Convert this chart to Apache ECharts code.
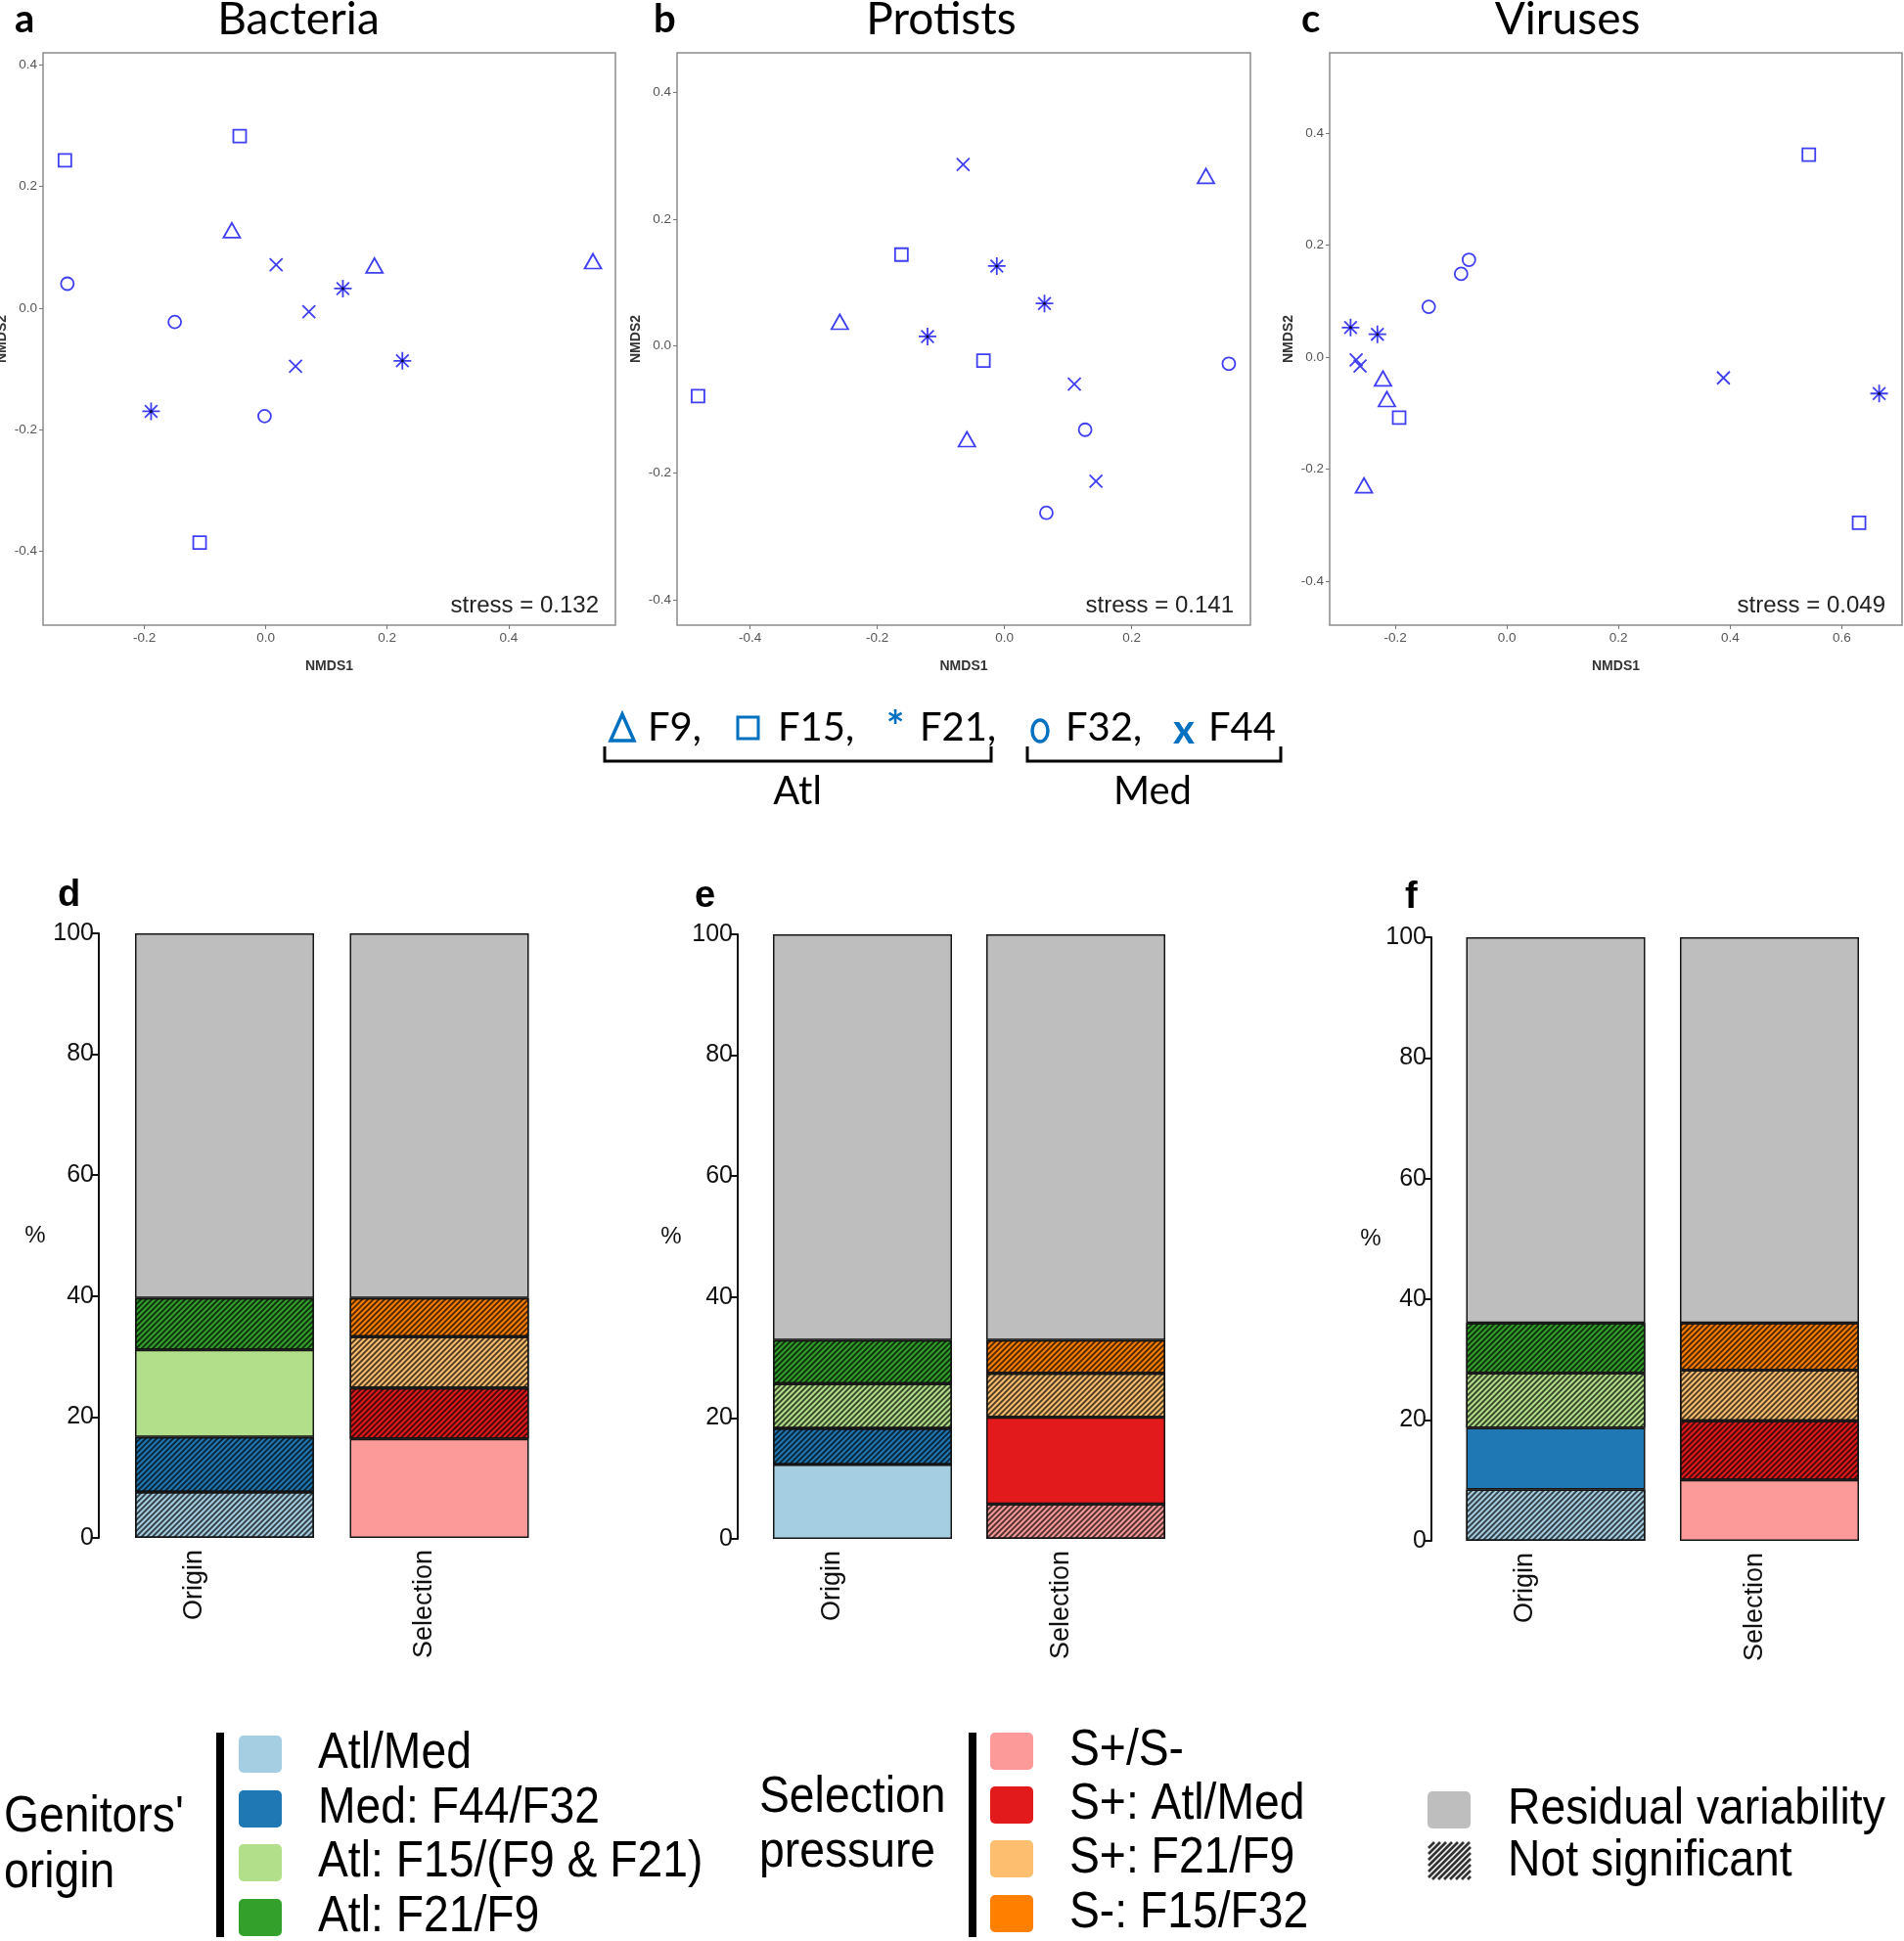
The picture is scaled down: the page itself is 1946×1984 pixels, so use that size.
<!DOCTYPE html>
<html>
<head>
<meta charset="utf-8">
<script src="https://cdn.jsdelivr.net/npm/echarts@6/dist/echarts.min.js"></script>
<style>
html,body{margin:0;padding:0;background:#fff;}
#chart{width:1946px;height:1984px;}
</style>
</head>
<body>
<div id="chart"></div>
<script>
// ---------- NMDS data (NMDS1, NMDS2) ----------
const bacteriaF9  = [[-0.056,0.128],[0.179,0.070],[0.539,0.077]];
const bacteriaF15 = [[-0.331,0.243],[-0.043,0.283],[-0.109,-0.386]];
const bacteriaF21 = [[0.127,0.032],[0.225,-0.087],[-0.189,-0.170]];
const bacteriaF32 = [[-0.327,0.040],[-0.150,-0.023],[-0.002,-0.178]];
const bacteriaF44 = [[0.017,0.071],[0.071,-0.006],[0.049,-0.096]];

const protistsF9  = [[0.317,0.268],[-0.259,0.038],[-0.059,-0.147]];
const protistsF15 = [[-0.162,0.144],[-0.033,-0.023],[-0.482,-0.079]];
const protistsF21 = [[-0.012,0.126],[0.063,0.067],[-0.121,0.015]];
const protistsF32 = [[0.353,-0.028],[0.127,-0.132],[0.066,-0.263]];
const protistsF44 = [[-0.065,0.286],[0.110,-0.060],[0.144,-0.213]];

const virusesF9  = [[-0.222,-0.038],[-0.215,-0.075],[-0.256,-0.229]];
const virusesF15 = [[0.541,0.362],[-0.193,-0.108],[0.631,-0.296]];
const virusesF21 = [[-0.280,0.053],[-0.232,0.041],[0.667,-0.065]];
const virusesF32 = [[-0.068,0.174],[-0.082,0.149],[-0.140,0.090]];
const virusesF44 = [[-0.270,-0.005],[-0.263,-0.016],[0.388,-0.037]];

const panelTitles = ['Bacteria','Protists','Viruses'];
const panelLetters = ['a','b','c'];
const stressValues = ['0.132','0.141','0.049'];
const xRanges = [[-0.367,0.576],[-0.515,0.387],[-0.3175,0.708]];
const yRanges = [[-0.522,0.420],[-0.440,0.462],[-0.479,0.544]];
const xTicks = [[-0.2,0,0.2,0.4],[-0.4,-0.2,0,0.2],[-0.2,0,0.2,0.4,0.6]];
const yTicks = [[-0.4,-0.2,0,0.2,0.4],[-0.4,-0.2,0,0.2,0.4],[-0.4,-0.2,0,0.2,0.4]];

// ---------- variance partition (%) bottom -> top ----------
const barCategories = ['Origin','Selection'];
const originD    = [7.6, 9.1, 14.4, 8.6, 60.3];
const selectionD = [16.4, 8.4, 8.5, 6.4, 60.3];
const originE    = [12.3, 6.0, 7.4, 7.2, 67.1];
const selectionE = [5.8, 14.3, 7.3, 5.5, 67.1];
const originF    = [8.5, 10.2, 9.1, 8.3, 63.9];
const selectionF = [10.1, 9.8, 8.4, 7.8, 63.9];
// 1 = not significant (hatched)
const hatchOriginD = [1,1,0,1,0], hatchSelectionD = [0,1,1,1,0];
const hatchOriginE = [0,1,1,1,0], hatchSelectionE = [1,0,1,1,0];
const hatchOriginF = [1,0,1,1,0], hatchSelectionF = [0,1,1,1,0];
const barLetters = ['d','e','f'];

const originLabels = ['Atl/Med','Med: F44/F32','Atl: F15/(F9 & F21)','Atl: F21/F9'];
const selectionLabels = ['S+/S-','S+: Atl/Med','S+: F21/F9','S-: F15/F32'];
const originColors = ['#a6cee3','#1f78b4','#b2df8a','#33a02c','#bebebe'];
const selectionColors = ['#fb9a99','#e31a1c','#fdbf6f','#ff7f00','#bebebe'];

// ---------- layout ----------
const BLUE = '#3f3ff2';
const scatterGrids = [
  {left:44, top:54, width:585, height:585},
  {left:692, top:54, width:586, height:585},
  {left:1359, top:54, width:585, height:585}
];
const barGrids = [
  {left:119.75, top:954, width:439, height:618, axisOffset:18.75},
  {left:772.5, top:955, width:436, height:618, axisOffset:18.5},
  {left:1480.75, top:958, width:437, height:617, axisOffset:17.75}
];

const chart = echarts.init(document.getElementById('chart'), null, {renderer:'canvas'});

const grids = [], xAxes = [], yAxes = [], series = [], graphics = [];
const fmt = v => (Math.abs(v) < 1e-9 ? '0.0' : v.toFixed(1));

const X_PATH = 'path://M0,0 L10,10 M10,0 L0,10';
const STAR_PATH = 'path://M5,0 L5,10 M0,5 L10,5 M1.46,1.46 L8.54,8.54 M8.54,1.46 L1.46,8.54';

const nmds = [
  [bacteriaF9,bacteriaF15,bacteriaF21,bacteriaF32,bacteriaF44],
  [protistsF9,protistsF15,protistsF21,protistsF32,protistsF44],
  [virusesF9,virusesF15,virusesF21,virusesF32,virusesF44]
];
const symDefs = [
  {name:'F9', symbol:'triangle', size:[17,15]},
  {name:'F15', symbol:'rect', size:13},
  {name:'F21', symbol:STAR_PATH, size:18},
  {name:'F32', symbol:'circle', size:13},
  {name:'F44', symbol:X_PATH, size:13}
];

scatterGrids.forEach((g, k) => {
  grids.push(Object.assign({}, g, {show:true, borderColor:'#8c8c8c', borderWidth:1.5, backgroundColor:'transparent', containLabel:false, outerBoundsMode:'none'}));
  xAxes.push({
    type:'value', gridIndex:k, min:xRanges[k][0], max:xRanges[k][1],
    name:'NMDS1', nameLocation:'middle', nameGap:35,
    nameTextStyle:{fontSize:14, fontWeight:'bold', color:'#333', fontFamily:'Liberation Sans'},
    axisLine:{show:false, onZero:false},
    axisTick:{show:true, length:4, lineStyle:{color:'#777', width:1}, customValues:xTicks[k]},
    axisLabel:{customValues:xTicks[k], formatter:fmt, fontSize:13.5, color:'#555', margin:6},
    splitLine:{show:false}
  });
  yAxes.push({
    type:'value', gridIndex:k, min:yRanges[k][0], max:yRanges[k][1],
    name:'NMDS2', nameLocation:'middle', nameGap:35, nameRotate:90,
    nameTextStyle:{fontSize:14, fontWeight:'bold', color:'#333', fontFamily:'Liberation Sans'},
    axisLine:{show:false, onZero:false},
    axisTick:{show:true, length:4, lineStyle:{color:'#777', width:1}, customValues:yTicks[k]},
    axisLabel:{customValues:yTicks[k], formatter:fmt, fontSize:13.5, color:'#555', margin:6},
    splitLine:{show:false}
  });
  symDefs.forEach((s, i) => {
    series.push({
      type:'scatter', name:s.name, xAxisIndex:k, yAxisIndex:k,
      data:nmds[k][i], symbol:s.symbol, symbolSize:s.size,
      itemStyle:{color:'none', borderColor:BLUE, borderWidth:1.8, opacity:1},
      emphasis:{disabled:true}, silent:true
    });
  });
  // black centre dot of the asterisks
  series.push({
    type:'scatter', xAxisIndex:k, yAxisIndex:k, data:nmds[k][2],
    symbol:'circle', symbolSize:3, itemStyle:{color:'#000'}, silent:true, z:3
  });
  const right = g.left + g.width;
  graphics.push({type:'text', x:right-17, y:g.top+g.height-20,
    style:{text:'stress = ' + stressValues[k], font:'24px "Liberation Sans"', fill:'#222', textAlign:'right', textVerticalAlign:'middle'}});
});

const titleX = [305, 962, 1602];
const letterX = [15, 668, 1330];
titleX.forEach((x, k) => {
  graphics.push({type:'text', x:x, y:20, style:{text:panelTitles[k], font:'46px Lato', fill:'#000', textAlign:'center', textVerticalAlign:'middle'}});
  graphics.push({type:'text', x:letterX[k], y:20, style:{text:panelLetters[k], font:'bold 40px Lato', fill:'#000', textAlign:'left', textVerticalAlign:'middle'}});
});

// ---------- bar panels ----------
const hatchDecal = {symbol:'rect', symbolSize:1, dashArrayX:[1,0], dashArrayY:[1.3,1.9], rotation:-Math.PI/4, color:'rgba(0,0,0,0.68)'};
const barData = [
  [originD, selectionD, hatchOriginD, hatchSelectionD],
  [originE, selectionE, hatchOriginE, hatchSelectionE],
  [originF, selectionF, hatchOriginF, hatchSelectionF]
];
barGrids.forEach((g, k) => {
  const gi = 3 + k;
  grids.push({left:g.left, top:g.top, width:g.width, height:g.height, containLabel:false, outerBoundsMode:'none'});
  xAxes.push({
    type:'category', gridIndex:gi, data:barCategories,
    axisLine:{show:false}, axisTick:{show:false},
    axisLabel:{
      rotate:90, margin:12,
      formatter:(v, i) => (i === 0 ? '{o|' + v + '}' : '{s|' + v + '}'),
      rich:{
        o:{fontSize:27, color:'#111', fontFamily:'Liberation Sans', padding:[0,0,62,0]},
        s:{fontSize:27, color:'#111', fontFamily:'Liberation Sans', padding:[0,0,30,0]}
      }
    }
  });
  yAxes.push({
    type:'value', gridIndex:gi, min:0, max:100, interval:20, offset:g.axisOffset,
    axisLine:{show:true, lineStyle:{color:'#111', width:2}},
    axisTick:{show:true, length:8, lineStyle:{color:'#111', width:2}},
    axisLabel:{fontSize:25, color:'#111', margin:5, fontFamily:'Liberation Sans'},
    splitLine:{show:false}
  });
  const [ori, sel, ho, hs] = barData[k];
  for (let i = 0; i < 5; i++) {
    const oItem = {value:ori[i], itemStyle:{color:originColors[i]}};
    if (ho[i]) oItem.itemStyle.decal = hatchDecal;
    const sItem = {value:sel[i], itemStyle:{color:selectionColors[i]}};
    if (hs[i]) sItem.itemStyle.decal = hatchDecal;
    series.push({
      type:'bar', xAxisIndex:gi, yAxisIndex:gi, stack:'p'+k, barWidth:183,
      data:[oItem, sItem],
      itemStyle:{borderColor:'#151515', borderWidth:1.5},
      emphasis:{disabled:true}, silent:true
    });
  }
});
const barLetterPos = [[59,916],[710,917],[1436,918]];
const pctPos = [[36,1263],[686,1264],[1401,1266]];
barLetterPos.forEach((p, k) => {
  graphics.push({type:'text', x:p[0], y:p[1], style:{text:barLetters[k], font:'bold 38px "Liberation Sans"', fill:'#000', textAlign:'left', textVerticalAlign:'middle'}});
  graphics.push({type:'text', x:pctPos[k][0], y:pctPos[k][1], style:{text:'%', font:'24px "Liberation Sans"', fill:'#111', textAlign:'center', textVerticalAlign:'middle'}});
});

// ---------- symbol legend (middle) ----------
const LB = '#0070c0';
const midY = 744;
const midTexts = [
  {t:'F9,', x:662}, {t:'F15,', x:795}, {t:'F21,', x:940}, {t:'F32,', x:1089}, {t:'F44', x:1235}
];
midTexts.forEach(m => graphics.push({type:'text', x:m.x, y:midY, style:{text:m.t, font:'40px Lato', fill:'#000', textAlign:'left', textVerticalAlign:'middle'}}));
graphics.push({type:'polygon', shape:{points:[[636,730],[624,757],[648,757]]}, style:{fill:'none', stroke:LB, lineWidth:3.5, lineJoin:'miter'}});
graphics.push({type:'rect', shape:{x:754, y:733, width:21, height:22}, style:{fill:'none', stroke:LB, lineWidth:3}});
graphics.push({type:'text', x:915, y:midY, style:{text:'*', font:'bold 44px Lato', fill:LB, textAlign:'center', textVerticalAlign:'middle'}});
graphics.push({type:'ellipse', shape:{cx:1063, cy:747, rx:8, ry:11}, style:{fill:'none', stroke:LB, lineWidth:3.5}});
graphics.push({type:'text', x:1210, y:midY+2, style:{text:'x', font:'bold 42px Lato', fill:LB, textAlign:'center', textVerticalAlign:'middle'}});
const bracket = (x0, x1) => ({type:'polyline', shape:{points:[[x0,763],[x0,778],[x1,778],[x1,763]]}, style:{stroke:'#000', lineWidth:3, fill:'none'}});
graphics.push(bracket(618, 1013));
graphics.push(bracket(1050, 1309));
graphics.push({type:'text', x:815, y:809, style:{text:'Atl', font:'40px Lato', fill:'#000', textAlign:'center', textVerticalAlign:'middle'}});
graphics.push({type:'text', x:1178, y:809, style:{text:'Med', font:'40px Lato', fill:'#000', textAlign:'center', textVerticalAlign:'middle'}});

// ---------- bottom colour legend ----------
const LF = '52px "Liberation Sans"';
const SX = 0.89;
const legText = (t, x, y) => ({type:'text', x:x, y:y, scaleX:SX, style:{text:t, font:LF, fill:'#000', textAlign:'left', textVerticalAlign:'middle'}});
const swatch = (x, y, c) => ({type:'rect', shape:{x:x, y:y-19, width:44, height:38, r:5}, style:{fill:c}});

graphics.push(legText("Genitors'", 4, 1858));
graphics.push(legText('origin', 4, 1915));
graphics.push({type:'rect', shape:{x:221, y:1771, width:8, height:209}, style:{fill:'#000'}});
const oY = [1793, 1849, 1904, 1960];
originLabels.forEach((t, i) => { graphics.push(swatch(244, oY[i], originColors[i])); graphics.push(legText(t, 325, oY[i])); });

graphics.push(legText('Selection', 776, 1838));
graphics.push(legText('pressure', 776, 1894));
graphics.push({type:'rect', shape:{x:990, y:1771, width:8, height:209}, style:{fill:'#000'}});
const sY = [1790, 1845, 1900, 1956];
selectionLabels.forEach((t, i) => { graphics.push(swatch(1012, sY[i], selectionColors[i])); graphics.push(legText(t, 1093, sY[i])); });

graphics.push(swatch(1459, 1850, '#bebebe'));
graphics.push(legText('Residual variability', 1541, 1850));
// hatched swatch
(function(){
  const x0 = 1460, x1 = 1503, y0 = 1883, y1 = 1921, h = y1 - y0;
  for (let c = x0 - h; c < x1; c += 6) {
    let sx = c, sy = y1, ex = c + h, ey = y0;
    if (sx < x0) { sy = y1 - (x0 - sx); sx = x0; }
    if (ex > x1) { ey = y0 + (ex - x1); ex = x1; }
    if (ex - sx < 1) continue;
    graphics.push({type:'line', shape:{x1:sx, y1:sy, x2:ex, y2:ey}, style:{stroke:'#333', lineWidth:2.6}});
  }
})();
graphics.push(legText('Not significant', 1541, 1903));

chart.setOption({
  animation:false,
  textStyle:{fontFamily:'Liberation Sans'},
  grid:grids, xAxis:xAxes, yAxis:yAxes, series:series,
  graphic:{elements:graphics}
});
</script>
</body>
</html>
